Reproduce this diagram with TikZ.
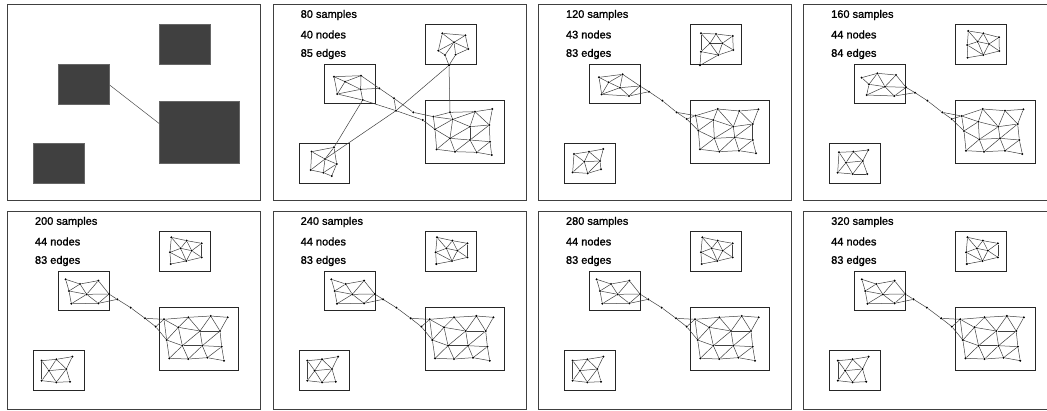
\documentclass[tikz,border=0pt]{standalone}
\usepackage{fontspec}
\newfontfamily\labfont[FakeBold=1.2]{Liberation Sans}
\tikzset{
  panel/.style={draw=black!75, line width=0.9pt},
  clbox/.style={draw=black!85, line width=0.75pt},
  gedge/.style={draw=black!75, line width=0.5pt},
  gnode/.style={circle, fill=black, inner sep=0pt, minimum size=2.3pt},
  lab/.style={anchor=west, inner sep=0pt, font=\labfont\fontsize{11}{13}\selectfont},
  darkbox/.style={fill=black!75, draw=black!60, line width=0.4pt, inner sep=0pt},
  gline/.style={draw=black!70, line width=0.5pt},
}
\newcommand\mknodes[2]{\foreach \n/\x/\y in #2 {\node[gnode] (#1\n) at (\x,\y) {};}}
\newcommand\mkedges[2]{\foreach \ea/\eb in #2 {\draw[gedge] (#1\ea) -- (#1\eb);}}
\newcommand\panelbox[1]{%
  \draw[panel] (0,0) rectangle (253.5,#1);
  \draw[clbox] (152,19.5) rectangle (203,59.2);
  \draw[clbox] (51,59.2) rectangle (102.3,99);
  \draw[clbox] (152,96) rectangle (231.5,158.5);
  \draw[clbox] (26.2,138.5) rectangle (76.8,178.5);
}
\newcommand\panellabels[4]{%
  \node[lab] (#1sa) at (27.5,10.3) {#2 samples};
  \node[lab] (#1sb) at (27.5,29.8) {#3 nodes};
  \node[lab] (#1sc) at (27.5,49.3) {#4 edges};
}
% ---------- panel 2 (80 samples) ----------
\def\NodesB{t1/532/100, t2/601/106, t3/567/127, t4/520/152, t5/610/147, t6/540/165, t7/572/164, t8/552/196, m1/207/230, m2/288/227, m3/240/245, m4/217/282, m5/287/268, m6/343/265, m7/293/300, x1/387/295, x2/393/332, x3/445/337, x4/473/360, b1/505/350, b2/555/337, b3/630/335, b4/682/327, b5/563/358, b6/615/380, b7/673/375, b8/510/388, b9/555/415, b10/615/420, b11/675/425, b12/515/448, b13/570/455, b14/635/457, b15/680/465, l1/140/455, l2/207/442, l3/180/477, l4/215/492, l5/137/510, l6/175/518, l7/200/528}
\def\EdgesB{t1/t2, t1/t3, t2/t3, t2/t5, t1/t4, t3/t4, t3/t5, t3/t7, t4/t6, t3/t6, t5/t7, t6/t8, t7/t8, m1/m2, m1/m3, m1/m4, m3/m2, m3/m4, m3/m5, m2/m5, m2/m6, m4/m5, m5/m6, m4/m7, m5/m7, m6/x1, x1/x3, x3/b1, m7/x2, x2/x4, x4/b8, x1/x2, t8/x2, x2/l3, m7/l2, t8/b2, b1/b2, b2/b3, b3/b4, b1/b5, b2/b5, b5/b3, b3/b6, b3/b7, b4/b7, b5/b6, b6/b7, b1/b8, b8/b5, b8/b9, b5/b9, b9/b6, b6/b10, b10/b7, b7/b11, b9/b10, b10/b11, b8/b12, b12/b9, b9/b13, b13/b10, b10/b14, b14/b11, b11/b15, b12/b13, b13/b14, b14/b15, l1/l2, l1/l3, l1/l5, l2/l3, l2/l4, l3/l4, l3/l5, l3/l6, l4/l6, l4/l7, l5/l6, l6/l7}
% ---------- shared edge lists ----------
\def\EdgesTR{t1/t2, t2/t3, t1/t4, t1/t6, t4/t2, t2/t5, t4/t5, t5/t3, t3/t7, t5/t7, t4/t6, t4/t8, t5/t8, t6/t8, t8/t7, t6/t9, t8/t9}
\def\EdgesMLc{m1/m2, m1/m3, m1/m6, m3/m2, m3/m4, m3/m6, m2/m4, m2/m5, m4/m5, m6/m4, m6/m7, m4/m7, m7/m5, m5/m8, m7/m8, m8/x1}
\def\EdgesMLn{m1/m2, m2/m3, m1/m4, m4/m2, m2/m5, m5/m3, m3/m6, m4/m5, m5/m6, m4/m7, m7/m5, m7/m8, m5/m8, m8/m6, m6/m9, m8/m9, m9/x1}
\def\EdgesBridge{x1/x2, x2/x3, x2/b1, x3/b1, x3/b8}
\def\EdgesBR{b1/b2, b2/b3, b3/b4, b1/b5, b2/b5, b2/b6, b3/b6, b3/b7, b4/b7, b5/b6, b6/b7, b1/b8, b8/b5, b5/b9, b9/b6, b6/b10, b10/b7, b7/b11, b8/b9, b9/b10, b10/b11, b8/b12, b12/b9, b9/b13, b13/b10, b10/b14, b14/b11, b11/b15, b12/b13, b13/b14, b14/b15}
\def\EdgesBL{l1/l2, l2/l3, l1/l6, l1/l4, l4/l2, l2/l5, l5/l3, l4/l5, l4/l6, l4/l7, l7/l5, l5/l8, l6/l7, l7/l8}
% ---------- panel 3 (120 samples) ----------
\def\NodesC{t1/513/100, t2/558/102, t3/608/108, t4/540/130, t5/577/130, t6/513/155, t7/610/150, t8/565/165, t9/510/196, m1/207/232, m2/278/223, m3/236/247, m4/270/263, m5/330/258, m6/215/283, m7/297/288, m8/357/275, x1/397/302, x2/440/337, x3/470/357, b1/497/347, b2/563/327, b3/628/333, b4/685/328, b5/550/360, b6/610/380, b7/668/372, b8/505/392, b9/553/415, b10/614/412, b11/668/420, b12/510/448, b13/568/455, b14/627/452, b15/678/460, l1/132/462, l2/177/455, l3/220/447, l4/163/485, l5/210/483, l6/128/517, l7/173/520, l8/213/508}
% ---------- panel 4 (160 samples) ----------
\def\NodesD{t1/535/93, t2/580/100, t3/627/112, t4/563/125, t5/597/132, t6/532/135, t7/628/153, t8/580/165, t9/533/173, m1/215/233, m2/262/220, m3/318/225, m4/237/253, m5/285/260, m6/348/262, m7/230/285, m8/313/288, m9/375/278, x1/412/302, x2/457/337, x3/485/357, b1/515/348, b2/578/327, b3/645/332, b4/700/328, b5/565/365, b6/625/380, b7/683/372, b8/522/393, b9/568/418, b10/630/415, b11/688/420, b12/528/452, b13/582/455, b14/645/452, b15/697/462, l1/147/457, l2/190/455, l3/235/450, l4/168/488, l5/218/483, l6/143/518, l7/188/522, l8/232/522}
% ---------- panels 5 to 8 ----------
\def\NodesG{t1/517/112, t2/563/122, t3/608/130, t4/545/145, t5/578/152, t6/513/157, t7/608/172, t8/562/183, t9/515/192, m1/200/238, m2/243/252, m3/298/242, m4/210/273, m5/263/283, m6/330/282, m7/217/311, m8/298/310, m9/355/298, x1/395/323, x2/438/355, x3/470/380, b1/495/358, b2/568/352, b3/635/348, b4/686/352, b5/538/382, b6/603/393, b7/663/393, b8/503/420, b9/550/437, b10/610/437, b11/668/440, b12/511/475, b13/568/477, b14/625/473, b15/675/482, l1/128/482, l2/172/478, l3/220/470, l4/150/512, l5/202/507, l6/128/542, l7/172/547, l8/213/545}
\newcommand\lategraph[1]{%
  \begin{scope}[shift={(-8.3,-11.7)}, x=0.333333pt, y=-0.333333pt]
    \mknodes{#1}{\NodesG}
    \mkedges{#1}{\EdgesTR}\mkedges{#1}{\EdgesMLn}\mkedges{#1}{\EdgesBridge}
    \mkedges{#1}{\EdgesBR}\mkedges{#1}{\EdgesBL}
  \end{scope}}
\begin{document}
\begin{tikzpicture}[x=1pt, y=-1pt]
\clip (0,0) rectangle (1047,410);
\fill[white] (0,0) rectangle (1047,410);
% ===== panel 1 =====
\begin{scope}[shift={(7.3,4.7)}]
  \draw[panel] (0,0) rectangle (253.5,195.5);
  \node[darkbox, minimum width=51pt, minimum height=39.7pt] (Atr) at (177.5,39.35) {};
  \node[darkbox, minimum width=51.3pt, minimum height=39.8pt] (Aml) at (76.65,79.1) {};
  \node[darkbox, minimum width=79.5pt, minimum height=62.5pt] (Abr) at (191.75,127.25) {};
  \node[darkbox, minimum width=50.6pt, minimum height=40pt] (Abl) at (51.5,158.5) {};
  \draw[gline] (Aml.-3) -- (Abr.168);
\end{scope}
% ===== panel 2 =====
\begin{scope}[shift={(273,4.7)}]
  \panelbox{195.5}
  \panellabels{B}{80}{40}{85}
  \begin{scope}[shift={(-8,-4.7)}, x=0.333333pt, y=-0.333333pt]
    \mknodes{B}{\NodesB}
    \mkedges{B}{\EdgesB}
  \end{scope}
\end{scope}
% ===== panel 3 =====
\begin{scope}[shift={(538.3,4.7)}]
  \panelbox{195.5}
  \panellabels{C}{120}{43}{83}
  \begin{scope}[shift={(-8.3,-4.7)}, x=0.333333pt, y=-0.333333pt]
    \mknodes{C}{\NodesC}
    \mkedges{C}{\EdgesTR}\mkedges{C}{\EdgesMLc}\mkedges{C}{\EdgesBridge}
    \mkedges{C}{\EdgesBR}\mkedges{C}{\EdgesBL}
  \end{scope}
\end{scope}
% ===== panel 4 =====
\begin{scope}[shift={(803.5,4.7)}]
  \panelbox{195.5}
  \panellabels{D}{160}{44}{84}
  \begin{scope}[shift={(-13.5,-4.7)}, x=0.333333pt, y=-0.333333pt]
    \mknodes{D}{\NodesD}
    \mkedges{D}{\EdgesTR}\mkedges{D}{\EdgesMLn}\mkedges{D}{\EdgesBridge}
    \mkedges{D}{\EdgesBR}\mkedges{D}{\EdgesBL}
  \end{scope}
\end{scope}
% ===== panels 5-8 =====
\begin{scope}[shift={(7.3,211.7)}]
  \panelbox{197.6}
  \panellabels{E}{200}{44}{83}
  \lategraph{E}
\end{scope}
\begin{scope}[shift={(273,211.7)}]
  \panelbox{197.6}
  \panellabels{F}{240}{44}{83}
  \lategraph{F}
\end{scope}
\begin{scope}[shift={(538.3,211.7)}]
  \panelbox{197.6}
  \panellabels{G}{280}{44}{83}
  \lategraph{G}
\end{scope}
\begin{scope}[shift={(803.5,211.7)}]
  \panelbox{197.6}
  \panellabels{H}{320}{44}{83}
  \lategraph{H}
\end{scope}
\end{tikzpicture}
\end{document}
